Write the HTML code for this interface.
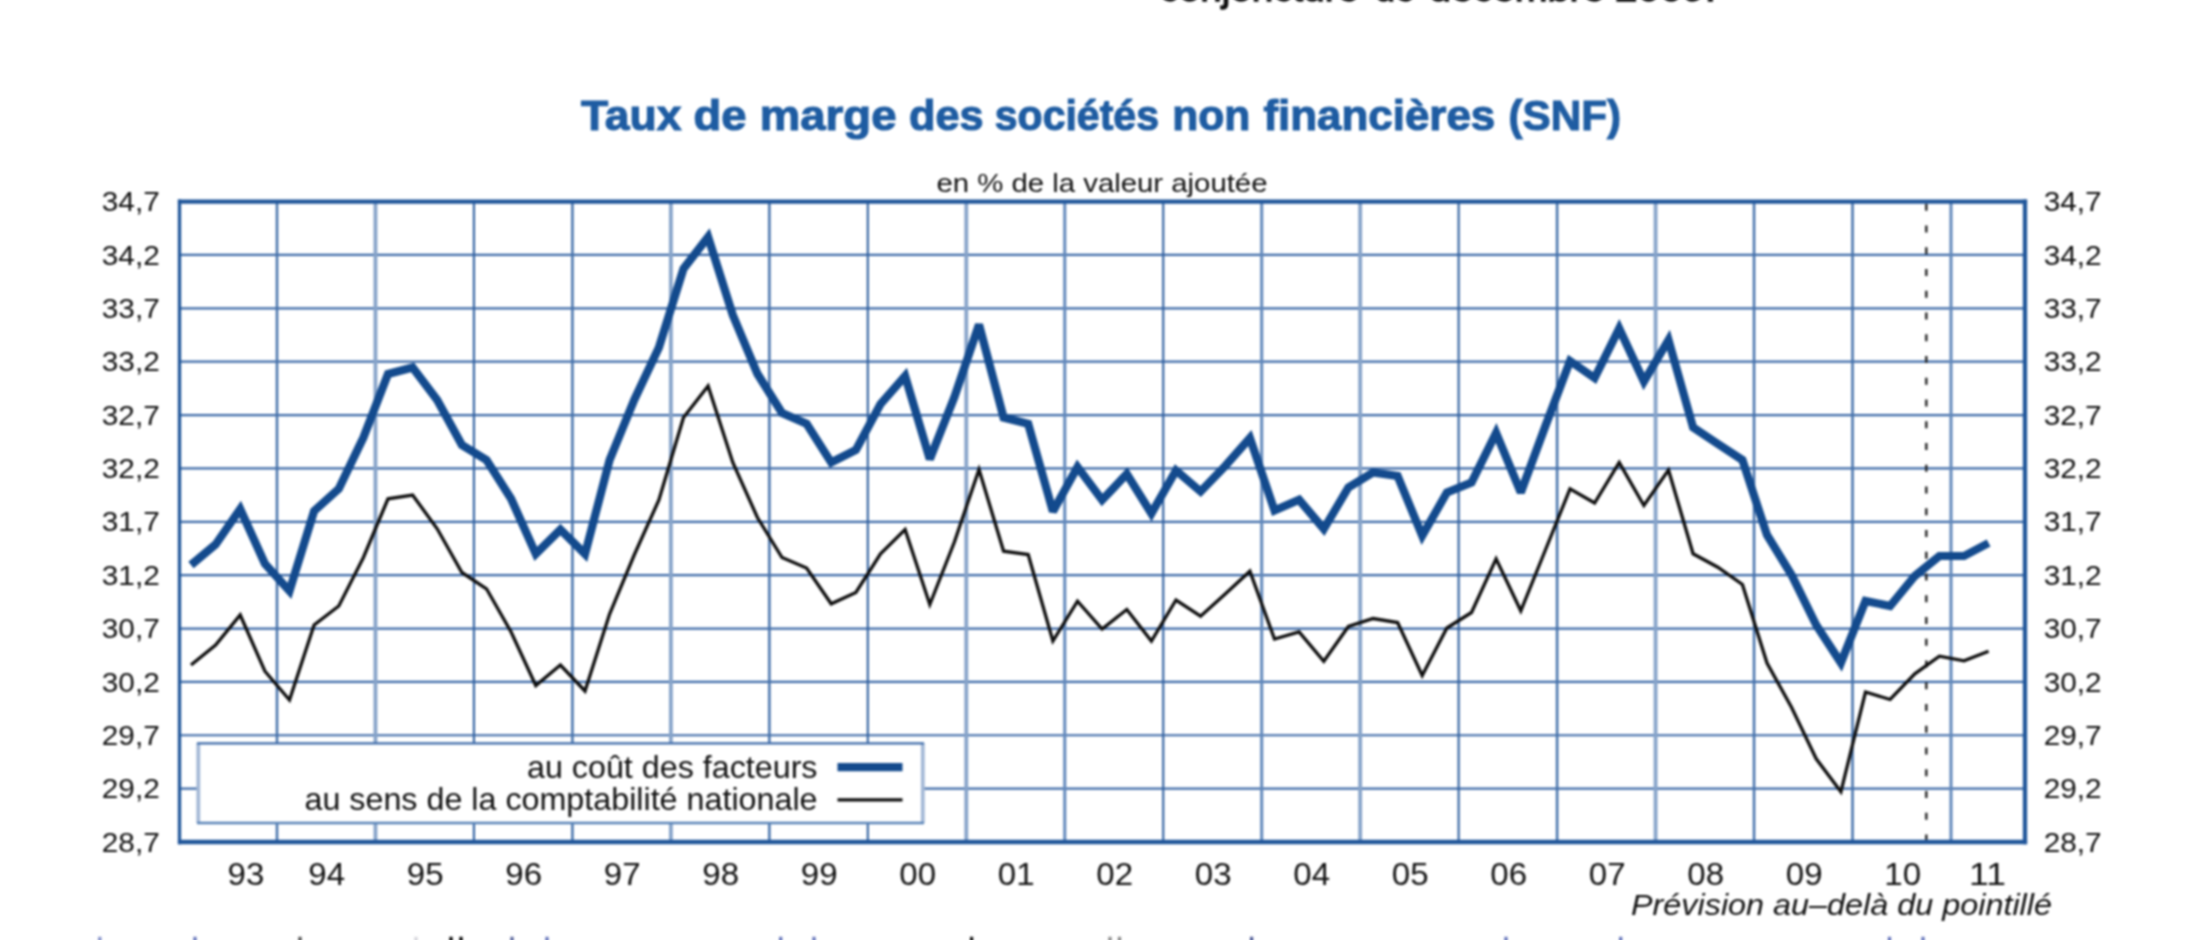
<!DOCTYPE html>
<html lang="fr">
<head>
<meta charset="utf-8">
<title>Taux de marge des sociétés non financières (SNF)</title>
<style>
html,body{margin:0;padding:0;background:#fff;}
body{width:2200px;height:940px;overflow:hidden;position:relative;font-family:"Liberation Sans",sans-serif;}
svg{position:absolute;left:0;top:0;display:block;}
text{font-family:"Liberation Sans",sans-serif;}
</style>
</head>
<body>
<svg width="2200" height="940" viewBox="0 0 2200 940">
<rect x="0" y="0" width="2200" height="940" fill="#ffffff"/>
<defs><filter id="soft" x="-2%" y="-2%" width="104%" height="104%" filterUnits="objectBoundingBox" color-interpolation-filters="sRGB"><feGaussianBlur stdDeviation="0.8"/></filter></defs>
<g filter="url(#soft)">
<text x="1159.50" y="0.8" font-size="40" fill="#0c0c0c" stroke="#0c0c0c" stroke-width="1.3" textLength="199.50" lengthAdjust="spacingAndGlyphs">conjoncture</text>
<text x="1375.00" y="0.8" font-size="40" fill="#0c0c0c" stroke="#0c0c0c" stroke-width="1.3" textLength="40.00" lengthAdjust="spacingAndGlyphs">de</text>
<text x="1429.00" y="0.8" font-size="40" fill="#0c0c0c" stroke="#0c0c0c" stroke-width="1.3" textLength="175.60" lengthAdjust="spacingAndGlyphs">décembre</text>
<text x="1615.00" y="0.8" font-size="40" fill="#0c0c0c" stroke="#0c0c0c" stroke-width="1.3" textLength="101.00" lengthAdjust="spacingAndGlyphs">2009.</text>
<text x="581.00" y="130" font-size="42" font-weight="bold" fill="#1e5ca2" stroke="#1e5ca2" stroke-width="1.1" textLength="100.50" lengthAdjust="spacingAndGlyphs">Taux</text>
<text x="693.50" y="130" font-size="42" font-weight="bold" fill="#1e5ca2" stroke="#1e5ca2" stroke-width="1.1" textLength="53.00" lengthAdjust="spacingAndGlyphs">de</text>
<text x="759.75" y="130" font-size="42" font-weight="bold" fill="#1e5ca2" stroke="#1e5ca2" stroke-width="1.1" textLength="136.75" lengthAdjust="spacingAndGlyphs">marge</text>
<text x="909.00" y="130" font-size="42" font-weight="bold" fill="#1e5ca2" stroke="#1e5ca2" stroke-width="1.1" textLength="74.50" lengthAdjust="spacingAndGlyphs">des</text>
<text x="994.75" y="130" font-size="42" font-weight="bold" fill="#1e5ca2" stroke="#1e5ca2" stroke-width="1.1" textLength="164.25" lengthAdjust="spacingAndGlyphs">sociétés</text>
<text x="1172.25" y="130" font-size="42" font-weight="bold" fill="#1e5ca2" stroke="#1e5ca2" stroke-width="1.1" textLength="78.00" lengthAdjust="spacingAndGlyphs">non</text>
<text x="1263.50" y="130" font-size="42" font-weight="bold" fill="#1e5ca2" stroke="#1e5ca2" stroke-width="1.1" textLength="231.75" lengthAdjust="spacingAndGlyphs">financières</text>
<text x="1508.50" y="130" font-size="42" font-weight="bold" fill="#1e5ca2" stroke="#1e5ca2" stroke-width="1.1" textLength="112.50" lengthAdjust="spacingAndGlyphs">(SNF)</text>
<text x="936.5" y="191.5" font-size="26.5" fill="#101010" textLength="331" lengthAdjust="spacingAndGlyphs">en % de la valeur ajoutée</text>
<g fill="none">
<line x1="179.5" x2="2025.0" y1="254.97" y2="254.97" stroke="#3b69a7" stroke-width="2.2"/>
<line x1="179.5" x2="2025.0" y1="308.33" y2="308.33" stroke="#3b69a7" stroke-width="2.2"/>
<line x1="179.5" x2="2025.0" y1="361.70" y2="361.70" stroke="#3b69a7" stroke-width="2.2"/>
<line x1="179.5" x2="2025.0" y1="415.07" y2="415.07" stroke="#3b69a7" stroke-width="2.2"/>
<line x1="179.5" x2="2025.0" y1="468.43" y2="468.43" stroke="#3b69a7" stroke-width="2.2"/>
<line x1="179.5" x2="2025.0" y1="521.80" y2="521.80" stroke="#3b69a7" stroke-width="2.2"/>
<line x1="179.5" x2="2025.0" y1="575.17" y2="575.17" stroke="#3b69a7" stroke-width="2.2"/>
<line x1="179.5" x2="2025.0" y1="628.53" y2="628.53" stroke="#3b69a7" stroke-width="2.2"/>
<line x1="179.5" x2="2025.0" y1="681.90" y2="681.90" stroke="#3b69a7" stroke-width="2.2"/>
<line x1="179.5" x2="2025.0" y1="735.27" y2="735.27" stroke="#3b69a7" stroke-width="2.2"/>
<line x1="179.5" x2="2025.0" y1="788.63" y2="788.63" stroke="#3b69a7" stroke-width="2.2"/>
<line x1="277.00" x2="277.00" y1="201.6" y2="842.0" stroke="#4370aa" stroke-width="2.5"/>
<line x1="375.47" x2="375.47" y1="201.6" y2="842.0" stroke="#86a3c9" stroke-width="3.8"/>
<line x1="473.94" x2="473.94" y1="201.6" y2="842.0" stroke="#2f5f9f" stroke-width="2.1"/>
<line x1="572.41" x2="572.41" y1="201.6" y2="842.0" stroke="#4370aa" stroke-width="2.5"/>
<line x1="670.88" x2="670.88" y1="201.6" y2="842.0" stroke="#86a3c9" stroke-width="3.8"/>
<line x1="769.35" x2="769.35" y1="201.6" y2="842.0" stroke="#4370aa" stroke-width="2.5"/>
<line x1="867.82" x2="867.82" y1="201.6" y2="842.0" stroke="#2f5f9f" stroke-width="2.1"/>
<line x1="966.29" x2="966.29" y1="201.6" y2="842.0" stroke="#86a3c9" stroke-width="3.8"/>
<line x1="1064.76" x2="1064.76" y1="201.6" y2="842.0" stroke="#6188bb" stroke-width="3.0"/>
<line x1="1163.23" x2="1163.23" y1="201.6" y2="842.0" stroke="#2f5f9f" stroke-width="2.1"/>
<line x1="1261.70" x2="1261.70" y1="201.6" y2="842.0" stroke="#6188bb" stroke-width="3.0"/>
<line x1="1360.17" x2="1360.17" y1="201.6" y2="842.0" stroke="#86a3c9" stroke-width="3.8"/>
<line x1="1458.64" x2="1458.64" y1="201.6" y2="842.0" stroke="#2f5f9f" stroke-width="2.1"/>
<line x1="1557.11" x2="1557.11" y1="201.6" y2="842.0" stroke="#4370aa" stroke-width="2.5"/>
<line x1="1655.58" x2="1655.58" y1="201.6" y2="842.0" stroke="#86a3c9" stroke-width="3.8"/>
<line x1="1754.05" x2="1754.05" y1="201.6" y2="842.0" stroke="#4370aa" stroke-width="2.5"/>
<line x1="1852.52" x2="1852.52" y1="201.6" y2="842.0" stroke="#4370aa" stroke-width="2.5"/>
<line x1="1950.99" x2="1950.99" y1="201.6" y2="842.0" stroke="#6188bb" stroke-width="3.0"/>
</g>
<line x1="1926.3" x2="1926.3" y1="203.75" y2="842.0" stroke="#222" stroke-width="2.4" stroke-dasharray="7 14.75"/>
<polyline fill="none" stroke="#0d0d0d" stroke-width="3.3" stroke-linejoin="miter" points="191.0,665.0 215.6,645.0 240.2,615.0 264.9,671.2 289.5,700.0 314.1,625.0 338.8,606.0 363.4,557.5 388.0,498.8 412.6,495.0 437.2,528.8 461.9,572.5 486.5,588.8 511.1,632.0 535.8,685.5 560.4,665.0 585.0,691.0 609.6,614.0 634.2,555.0 658.9,500.0 683.5,417.5 708.1,386.0 732.8,462.5 757.4,517.5 782.0,557.5 806.6,568.0 831.2,603.8 855.9,592.5 880.5,553.8 905.1,529.5 929.8,604.5 954.4,542.0 979.0,469.5 1003.6,551.2 1028.2,554.5 1052.9,641.0 1077.5,601.2 1102.1,629.0 1126.8,609.5 1151.4,641.0 1176.0,600.0 1200.6,616.2 1225.2,594.0 1249.9,571.2 1274.5,639.0 1299.1,632.0 1323.8,661.2 1348.4,626.5 1373.0,618.5 1397.6,622.5 1422.2,675.5 1446.9,628.0 1471.5,612.5 1496.1,558.8 1520.8,610.8 1545.4,550.0 1570.0,488.8 1594.6,503.0 1619.2,462.5 1643.9,505.5 1668.5,470.0 1693.1,553.8 1717.8,567.2 1742.4,584.5 1767.0,663.0 1791.6,707.5 1816.2,758.8 1840.9,791.8 1865.5,692.0 1890.1,699.5 1914.8,673.8 1939.4,656.2 1964.0,660.8 1988.6,651.2"/>
<polyline fill="none" stroke="#134a8d" stroke-width="8.2" stroke-linejoin="miter" stroke-miterlimit="2.6" points="191.0,565.0 215.6,544.5 240.2,509.0 264.9,563.8 289.5,591.0 314.1,511.0 338.8,488.8 363.4,437.5 388.0,374.0 412.6,367.5 437.2,400.0 461.9,445.0 486.5,460.0 511.1,498.8 535.8,554.0 560.4,529.5 585.0,554.0 609.6,460.0 634.2,400.0 658.9,347.5 683.5,268.8 708.1,237.0 732.8,315.0 757.4,373.8 782.0,413.0 806.6,423.8 831.2,462.5 855.9,450.0 880.5,404.0 905.1,376.0 929.8,459.2 954.4,397.0 979.0,324.6 1003.6,417.5 1028.2,423.8 1052.9,511.5 1077.5,467.0 1102.1,500.0 1126.8,474.0 1151.4,513.5 1176.0,470.5 1200.6,491.5 1225.2,466.0 1249.9,438.0 1274.5,510.5 1299.1,499.8 1323.8,529.0 1348.4,487.5 1373.0,472.5 1397.6,476.0 1422.2,535.8 1446.9,492.5 1471.5,482.5 1496.1,433.0 1520.8,492.5 1545.4,426.0 1570.0,361.0 1594.6,378.0 1619.2,328.5 1643.9,381.5 1668.5,340.0 1693.1,427.5 1717.8,443.8 1742.4,460.0 1767.0,535.0 1791.6,575.0 1816.2,625.0 1840.9,662.8 1865.5,601.0 1890.1,606.0 1914.8,576.0 1939.4,556.0 1964.0,556.0 1988.6,543.0"/>
<line x1="179.5" x2="179.5" y1="199.5" y2="844.2" stroke="#20569a" stroke-width="3.3"/>
<line x1="2025.0" x2="2025.0" y1="199.5" y2="844.2" stroke="#20569a" stroke-width="4.3"/>
<line x1="177.9" x2="2027.1" y1="201.6" y2="201.6" stroke="#20569a" stroke-width="4.1"/>
<line x1="177.9" x2="2027.1" y1="842.0" y2="842.0" stroke="#20569a" stroke-width="4.4"/>
<rect x="198" y="743.3" width="725" height="79.5" fill="#ffffff"/>
<line x1="198.3" x2="198.3" y1="743" y2="823" stroke="#a3b8d6" stroke-width="3.8"/>
<line x1="922.8" x2="922.8" y1="743" y2="823" stroke="#a3b8d6" stroke-width="3.8"/>
<line x1="197" x2="924" y1="823" y2="823" stroke="#5883b7" stroke-width="2.3"/>
<line x1="197" x2="924" y1="743.3" y2="743.3" stroke="#3c6aa8" stroke-width="2.2"/>
<text x="527" y="777.5" font-size="32" fill="#101010" textLength="290.5" lengthAdjust="spacingAndGlyphs">au coût des facteurs</text>
<text x="304.5" y="809.5" font-size="32" fill="#101010" textLength="513" lengthAdjust="spacingAndGlyphs">au sens de la comptabilité nationale</text>
<line x1="837.5" x2="902.5" y1="767.2" y2="767.2" stroke="#134a8d" stroke-width="8.2"/>
<line x1="837.5" x2="902.5" y1="799.8" y2="799.8" stroke="#0d0d0d" stroke-width="3.3"/>
<text x="101.8" y="211.2" font-size="28.5" fill="#101010" textLength="58" lengthAdjust="spacingAndGlyphs">34,7</text>
<text x="2043.7" y="211.2" font-size="28.5" fill="#101010" textLength="58" lengthAdjust="spacingAndGlyphs">34,7</text>
<text x="101.8" y="264.6" font-size="28.5" fill="#101010" textLength="58" lengthAdjust="spacingAndGlyphs">34,2</text>
<text x="2043.7" y="264.6" font-size="28.5" fill="#101010" textLength="58" lengthAdjust="spacingAndGlyphs">34,2</text>
<text x="101.8" y="317.9" font-size="28.5" fill="#101010" textLength="58" lengthAdjust="spacingAndGlyphs">33,7</text>
<text x="2043.7" y="317.9" font-size="28.5" fill="#101010" textLength="58" lengthAdjust="spacingAndGlyphs">33,7</text>
<text x="101.8" y="371.3" font-size="28.5" fill="#101010" textLength="58" lengthAdjust="spacingAndGlyphs">33,2</text>
<text x="2043.7" y="371.3" font-size="28.5" fill="#101010" textLength="58" lengthAdjust="spacingAndGlyphs">33,2</text>
<text x="101.8" y="424.7" font-size="28.5" fill="#101010" textLength="58" lengthAdjust="spacingAndGlyphs">32,7</text>
<text x="2043.7" y="424.7" font-size="28.5" fill="#101010" textLength="58" lengthAdjust="spacingAndGlyphs">32,7</text>
<text x="101.8" y="478.0" font-size="28.5" fill="#101010" textLength="58" lengthAdjust="spacingAndGlyphs">32,2</text>
<text x="2043.7" y="478.0" font-size="28.5" fill="#101010" textLength="58" lengthAdjust="spacingAndGlyphs">32,2</text>
<text x="101.8" y="531.4" font-size="28.5" fill="#101010" textLength="58" lengthAdjust="spacingAndGlyphs">31,7</text>
<text x="2043.7" y="531.4" font-size="28.5" fill="#101010" textLength="58" lengthAdjust="spacingAndGlyphs">31,7</text>
<text x="101.8" y="584.8" font-size="28.5" fill="#101010" textLength="58" lengthAdjust="spacingAndGlyphs">31,2</text>
<text x="2043.7" y="584.8" font-size="28.5" fill="#101010" textLength="58" lengthAdjust="spacingAndGlyphs">31,2</text>
<text x="101.8" y="638.1" font-size="28.5" fill="#101010" textLength="58" lengthAdjust="spacingAndGlyphs">30,7</text>
<text x="2043.7" y="638.1" font-size="28.5" fill="#101010" textLength="58" lengthAdjust="spacingAndGlyphs">30,7</text>
<text x="101.8" y="691.5" font-size="28.5" fill="#101010" textLength="58" lengthAdjust="spacingAndGlyphs">30,2</text>
<text x="2043.7" y="691.5" font-size="28.5" fill="#101010" textLength="58" lengthAdjust="spacingAndGlyphs">30,2</text>
<text x="101.8" y="744.9" font-size="28.5" fill="#101010" textLength="58" lengthAdjust="spacingAndGlyphs">29,7</text>
<text x="2043.7" y="744.9" font-size="28.5" fill="#101010" textLength="58" lengthAdjust="spacingAndGlyphs">29,7</text>
<text x="101.8" y="798.2" font-size="28.5" fill="#101010" textLength="58" lengthAdjust="spacingAndGlyphs">29,2</text>
<text x="2043.7" y="798.2" font-size="28.5" fill="#101010" textLength="58" lengthAdjust="spacingAndGlyphs">29,2</text>
<text x="101.8" y="851.6" font-size="28.5" fill="#101010" textLength="58" lengthAdjust="spacingAndGlyphs">28,7</text>
<text x="2043.7" y="851.6" font-size="28.5" fill="#101010" textLength="58" lengthAdjust="spacingAndGlyphs">28,7</text>
<text x="227.60" y="885" font-size="31.5" fill="#101010" textLength="36.8" lengthAdjust="spacingAndGlyphs">93</text>
<text x="308.35" y="885" font-size="31.5" fill="#101010" textLength="36.8" lengthAdjust="spacingAndGlyphs">94</text>
<text x="406.85" y="885" font-size="31.5" fill="#101010" textLength="36.8" lengthAdjust="spacingAndGlyphs">95</text>
<text x="505.35" y="885" font-size="31.5" fill="#101010" textLength="36.8" lengthAdjust="spacingAndGlyphs">96</text>
<text x="603.85" y="885" font-size="31.5" fill="#101010" textLength="36.8" lengthAdjust="spacingAndGlyphs">97</text>
<text x="702.35" y="885" font-size="31.5" fill="#101010" textLength="36.8" lengthAdjust="spacingAndGlyphs">98</text>
<text x="800.85" y="885" font-size="31.5" fill="#101010" textLength="36.8" lengthAdjust="spacingAndGlyphs">99</text>
<text x="899.35" y="885" font-size="31.5" fill="#101010" textLength="36.8" lengthAdjust="spacingAndGlyphs">00</text>
<text x="997.85" y="885" font-size="31.5" fill="#101010" textLength="36.8" lengthAdjust="spacingAndGlyphs">01</text>
<text x="1096.35" y="885" font-size="31.5" fill="#101010" textLength="36.8" lengthAdjust="spacingAndGlyphs">02</text>
<text x="1194.85" y="885" font-size="31.5" fill="#101010" textLength="36.8" lengthAdjust="spacingAndGlyphs">03</text>
<text x="1293.35" y="885" font-size="31.5" fill="#101010" textLength="36.8" lengthAdjust="spacingAndGlyphs">04</text>
<text x="1391.85" y="885" font-size="31.5" fill="#101010" textLength="36.8" lengthAdjust="spacingAndGlyphs">05</text>
<text x="1490.35" y="885" font-size="31.5" fill="#101010" textLength="36.8" lengthAdjust="spacingAndGlyphs">06</text>
<text x="1588.85" y="885" font-size="31.5" fill="#101010" textLength="36.8" lengthAdjust="spacingAndGlyphs">07</text>
<text x="1687.35" y="885" font-size="31.5" fill="#101010" textLength="36.8" lengthAdjust="spacingAndGlyphs">08</text>
<text x="1785.85" y="885" font-size="31.5" fill="#101010" textLength="36.8" lengthAdjust="spacingAndGlyphs">09</text>
<text x="1884.35" y="885" font-size="31.5" fill="#101010" textLength="36.8" lengthAdjust="spacingAndGlyphs">10</text>
<text x="1969.10" y="885" font-size="31.5" fill="#101010" textLength="36.8" lengthAdjust="spacingAndGlyphs">11</text>
<text x="1631" y="915" font-size="29.5" font-style="italic" fill="#101010" textLength="421" lengthAdjust="spacingAndGlyphs">Prévision au–delà du pointillé</text>
<rect x="98.2" y="936.8" width="3.2" height="5" fill="#4a5db0" opacity="0.7"/>
<rect x="193.4" y="936.8" width="3.2" height="5" fill="#3b4fa8" opacity="0.8"/>
<rect x="298.4" y="936.8" width="3.2" height="5" fill="#222" opacity="0.8"/>
<rect x="414.4" y="936.8" width="3.2" height="5" fill="#889" opacity="0.35"/>
<rect x="449.4" y="936.8" width="3.2" height="5" fill="#000" opacity="1"/>
<rect x="459.4" y="936.8" width="3.2" height="5" fill="#000" opacity="1"/>
<rect x="510.4" y="936.8" width="3.2" height="5" fill="#2a3a80" opacity="0.8"/>
<rect x="545.4" y="936.8" width="3.2" height="5" fill="#3b4fa8" opacity="0.8"/>
<rect x="779.1" y="936.8" width="3.2" height="5" fill="#3b4fa8" opacity="0.8"/>
<rect x="812.4" y="936.8" width="3.2" height="5" fill="#3b4fa8" opacity="0.8"/>
<rect x="970.0" y="936.8" width="3.2" height="5" fill="#111" opacity="1"/>
<rect x="1108.4" y="936.8" width="3.2" height="5" fill="#555" opacity="0.7"/>
<rect x="1117.9" y="936.8" width="3.2" height="5" fill="#555" opacity="0.7"/>
<rect x="1250.0" y="936.8" width="3.2" height="5" fill="#2a3a80" opacity="0.85"/>
<rect x="1504.4" y="936.8" width="3.2" height="5" fill="#3b4fa8" opacity="0.8"/>
<rect x="1619.1" y="936.8" width="3.2" height="5" fill="#3b4fa8" opacity="0.8"/>
<rect x="1887.9" y="936.8" width="3.2" height="5" fill="#3b4fa8" opacity="0.8"/>
<rect x="1921.4" y="936.8" width="3.2" height="5" fill="#3b4fa8" opacity="0.8"/>
</g>
</svg>
</body>
</html>
